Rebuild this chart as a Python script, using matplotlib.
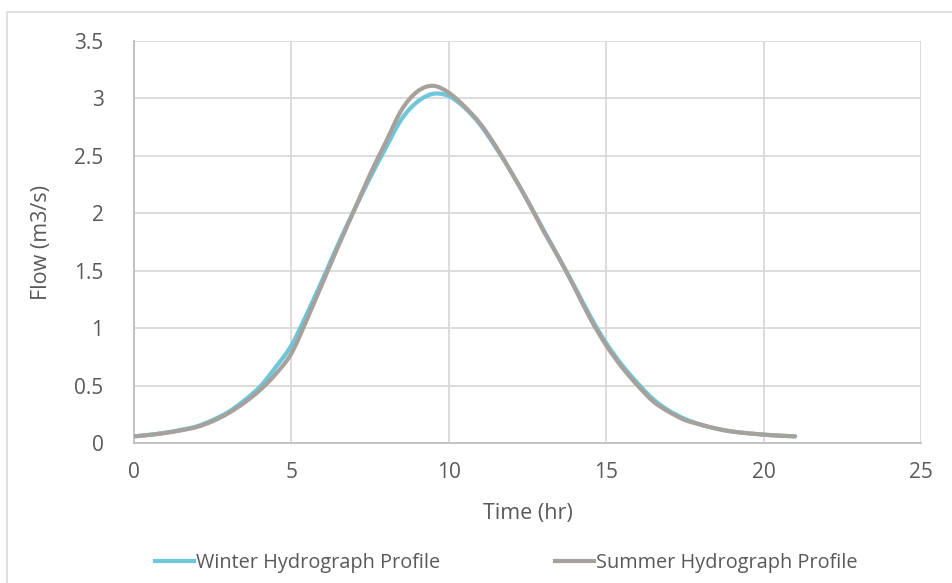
import matplotlib
matplotlib.use("Agg")
import matplotlib.pyplot as plt
from matplotlib.patches import Rectangle, PathPatch
from matplotlib.path import Path
from matplotlib.lines import Line2D

plt.rcParams['font.family'] = ['Open Sans', 'DejaVu Sans']

time_hr = [0, 0.5, 1, 1.5, 2, 2.5, 3, 3.5, 4, 4.5, 5, 5.5, 6, 6.5, 7, 7.5, 8, 8.5,
           9, 9.5, 10, 10.5, 11, 11.5, 12, 12.5, 13, 13.5, 14, 14.5, 15, 15.5, 16,
           16.5, 17, 17.5, 18, 18.5, 19, 19.5, 20, 20.5, 21]

winter_flow = [0.058, 0.072, 0.090, 0.115, 0.145, 0.20, 0.27, 0.37, 0.49, 0.66, 0.85,
               1.13, 1.43, 1.74, 2.03, 2.31, 2.57, 2.82, 2.97, 3.04, 3.02, 2.92, 2.77,
               2.57, 2.35, 2.11, 1.86, 1.61, 1.36, 1.10, 0.87, 0.68, 0.52, 0.38, 0.28,
               0.21, 0.16, 0.125, 0.10, 0.085, 0.073, 0.064, 0.058]

summer_flow = [0.058, 0.070, 0.088, 0.110, 0.140, 0.19, 0.26, 0.35, 0.46, 0.60, 0.78,
               1.08, 1.40, 1.72, 2.03, 2.34, 2.62, 2.90, 3.06, 3.11, 3.05, 2.93, 2.78,
               2.58, 2.35, 2.11, 1.85, 1.61, 1.35, 1.08, 0.85, 0.66, 0.50, 0.36, 0.27,
               0.20, 0.16, 0.125, 0.10, 0.085, 0.073, 0.064, 0.058]

series_names = ['Winter Hydrograph Profile', 'Summer Hydrograph Profile']

x_ticks = [0, 5, 10, 15, 20, 25]
y_ticks = [0, 0.5, 1, 1.5, 2, 2.5, 3, 3.5]
y_tick_labels = ['0', '0.5', '1', '1.5', '2', '2.5', '3', '3.5']


def smooth_path(xs, ys):
    """Excel-style smoothed line: Catmull-Rom segments as cubic Beziers."""
    n = len(xs)
    verts = [(xs[0], ys[0])]
    codes = [Path.MOVETO]
    for i in range(n - 1):
        x0, y0 = xs[max(i - 1, 0)], ys[max(i - 1, 0)]
        x1, y1 = xs[i], ys[i]
        x2, y2 = xs[i + 1], ys[i + 1]
        x3, y3 = xs[min(i + 2, n - 1)], ys[min(i + 2, n - 1)]
        c1 = (x1 + (x2 - x0) / 6.0, y1 + (y2 - y0) / 6.0)
        c2 = (x2 - (x3 - x1) / 6.0, y2 - (y3 - y1) / 6.0)
        verts += [c1, c2, (x2, y2)]
        codes += [Path.CURVE4] * 3
    return Path(verts, codes)


W, H = 953, 583
fig = plt.figure(figsize=(W / 100, H / 100), dpi=100)
fig.patch.set_facecolor('white')

# outer chart frame (partially cropped)
fig.add_artist(Rectangle((7 / W, -0.1), 1.2, 1.1 - 12 / H, transform=fig.transFigure,
                         fill=False, edgecolor='#D9D9D9', linewidth=1.2))

left, right, top, bottom = 134, 921, 41, 443
ax = fig.add_axes([left / W, 1 - bottom / H, (right - left) / W, (bottom - top) / H])

blue = '#6EC6D9'
gray = '#A6A19C'
lw = 3.0
for ys, col, z in [(winter_flow, blue, 3), (summer_flow, gray, 4)]:
    ax.add_patch(PathPatch(smooth_path(time_hr, ys), facecolor='none', edgecolor=col,
                           linewidth=lw, capstyle='round', joinstyle='round', zorder=z))

ax.set_xlim(0, 25)
ax.set_ylim(0, 3.5)
ax.set_xticks(x_ticks)
ax.set_yticks(y_ticks)
ax.set_yticklabels(y_tick_labels)
ax.grid(True, color='#D9D9D9', linewidth=1.3)
ax.set_axisbelow(True)
for s in ['top', 'right']:
    ax.spines[s].set_visible(False)
for s in ['left', 'bottom']:
    ax.spines[s].set_color('#BFBFBF')
    ax.spines[s].set_linewidth(1.3)
ax.tick_params(axis='both', length=0, colors='#595959', labelsize=15)
ax.tick_params(axis='y', pad=22)
ax.tick_params(axis='x', pad=14)

ax.set_xlabel('Time (hr)', fontsize=15.5, color='#595959')
ax.set_ylabel('Flow (m3/s)', fontsize=15.5, color='#595959')
ax.xaxis.set_label_coords((528 - left) / (right - left), -(503 - bottom) / (bottom - top))
ax.yaxis.set_label_coords(-(134 - 52) / (right - left), 0.5)

handles = [Line2D([], [], color=blue, linewidth=lw),
           Line2D([], [], color=gray, linewidth=lw)]
leg = fig.legend(handles, series_names, loc='center', bbox_to_anchor=(506 / W, 1 - 563 / H),
                 ncol=2, frameon=False, fontsize=14.3, handlelength=1.95,
                 handletextpad=0.1, columnspacing=5.8)
for t in leg.get_texts():
    t.set_color('#595959')

fig.savefig('out.png', dpi=100)
